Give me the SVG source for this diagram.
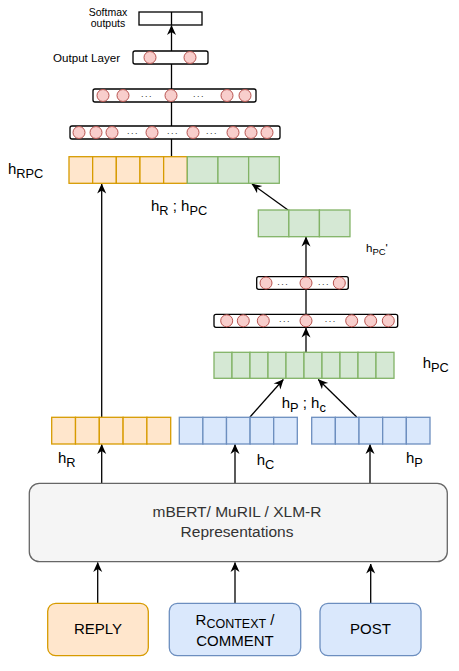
<svg xmlns="http://www.w3.org/2000/svg" width="459" height="671" viewBox="0 0 459 671">
<defs>
<marker id="arr" markerUnits="userSpaceOnUse" markerWidth="10" markerHeight="10" viewBox="0 0 10 10" refX="9.5" refY="5" orient="auto">
<path d="M0,0.5 L10,5 L0,9.5 L3,5 Z" fill="#000"/>
</marker>
</defs>
<style>
text{font-family:"Liberation Sans",Arial,sans-serif;fill:#000}
.conn line{stroke:#000;stroke-width:1.3;fill:none}
.ar{marker-end:url(#arr)}
.or rect{fill:#ffe6cc;stroke:#d79b00;stroke-width:1.3}
.gr rect{fill:#d5e8d4;stroke:#82b366;stroke-width:1.3}
.bl rect{fill:#dae8fc;stroke:#6c8ebf;stroke-width:1.3}
.layer rect{fill:#fff;stroke:#000;stroke-width:1.3}
.layer circle{fill:#f8cecc;stroke:#b85450;stroke-width:1}
.dots{font-size:9px;letter-spacing:1.5px;text-anchor:middle;fill:#333}
.lab{font-size:15px}
.sub{font-size:12.8px}
.mid{text-anchor:middle}
</style>

<g id="connectors" class="conn">
<line x1="171.5" y1="157" x2="171.5" y2="25.5" class="ar"/>
<line x1="101.7" y1="417" x2="101.7" y2="184" class="ar"/>
<line x1="288" y1="210" x2="252" y2="184" class="ar"/>
<line x1="306" y1="277" x2="306" y2="237" class="ar"/>
<line x1="306" y1="314" x2="306" y2="289"/>
<line x1="306" y1="352" x2="306" y2="328" class="ar"/>
<line x1="250" y1="417" x2="283.3" y2="379.5" class="ar"/>
<line x1="356.7" y1="417" x2="318.3" y2="379.5" class="ar"/>
<line x1="101.7" y1="483" x2="101.7" y2="444.5" class="ar"/>
<line x1="235" y1="483" x2="235" y2="444.5" class="ar"/>
<line x1="370" y1="483" x2="370" y2="444.5" class="ar"/>
<line x1="97.7" y1="603" x2="97.7" y2="562.5" class="ar"/>
<line x1="235" y1="603" x2="235" y2="562.5" class="ar"/>
<line x1="370.7" y1="603" x2="370.7" y2="564" class="ar"/>
</g>

<g id="softmax" class="layer">
<rect x="139" y="12" width="63" height="13"/>
<line x1="171.5" y1="12" x2="171.5" y2="25" stroke="#000" stroke-width="1.3"/>
<text x="108" y="15.5" font-size="10.5" class="mid">Softmax</text>
<text x="108" y="27" font-size="10.5" class="mid">outputs</text>
</g>

<g id="output-layer" class="layer">
<text x="53" y="62" font-size="11.6">Output Layer</text>
<rect x="133" y="51" width="75" height="13" rx="2"/>
<circle cx="150" cy="57.5" r="6"/>
<circle cx="190" cy="57.5" r="6"/>
</g>

<g id="hidden-layer-2" class="layer">
<rect x="93" y="89" width="163" height="13" rx="2"/>
<circle cx="103" cy="95.5" r="6"/>
<circle cx="123" cy="95.5" r="6"/>
<circle cx="171" cy="95.5" r="6"/>
<circle cx="227" cy="95.5" r="6"/>
<circle cx="245" cy="95.5" r="6"/>
<text x="147" y="97" class="dots">...</text>
<text x="199" y="97" class="dots">...</text>
</g>

<g id="hidden-layer-1" class="layer">
<rect x="70" y="126" width="210" height="13" rx="2"/>
<circle cx="79" cy="132.5" r="6"/>
<circle cx="96" cy="132.5" r="6"/>
<circle cx="112" cy="132.5" r="6"/>
<circle cx="152" cy="132.5" r="6"/>
<circle cx="193" cy="132.5" r="6"/>
<circle cx="233" cy="132.5" r="6"/>
<circle cx="251" cy="132.5" r="6"/>
<circle cx="267" cy="132.5" r="6"/>
<text x="133" y="134" class="dots">...</text>
<text x="173" y="134" class="dots">...</text>
<text x="212" y="134" class="dots">...</text>
</g>

<g id="hRPC">
<g class="or">
<rect x="69" y="156.7" width="23.66" height="26.6"/>
<rect x="92.66" y="156.7" width="23.66" height="26.6"/>
<rect x="116.32" y="156.7" width="23.66" height="26.6"/>
<rect x="139.98" y="156.7" width="23.66" height="26.6"/>
<rect x="163.64" y="156.7" width="23.66" height="26.6"/>
</g>
<g class="gr">
<rect x="187.3" y="156.7" width="30.67" height="26.6"/>
<rect x="217.97" y="156.7" width="30.67" height="26.6"/>
<rect x="248.64" y="156.7" width="30.67" height="26.6"/>
</g>
<text x="8" y="174" class="lab">h<tspan class="sub" dy="4">RPC</tspan></text>
<text x="151" y="211" class="lab">h<tspan class="sub" dy="4">R</tspan><tspan dy="-4"> ; h</tspan><tspan class="sub" dy="4">PC</tspan></text>
</g>

<g id="hPC-prime">
<g class="gr">
<rect x="258.3" y="210" width="30.56" height="26.7"/>
<rect x="288.86" y="210" width="30.56" height="26.7"/>
<rect x="319.42" y="210" width="30.56" height="26.7"/>
</g>
<text x="366" y="251.5" font-size="11.5">h<tspan font-size="9.5" dy="3">PC</tspan><tspan dy="-3">'</tspan></text>
</g>

<g id="small-layer" class="layer">
<rect x="256.7" y="276.7" width="91.6" height="12.6" rx="2"/>
<circle cx="266" cy="283" r="6"/>
<circle cx="306" cy="283" r="6"/>
<circle cx="339.3" cy="283" r="6"/>
<text x="283.3" y="284.5" class="dots">...</text>
<text x="324" y="284.5" class="dots">...</text>
</g>

<g id="wide-layer" class="layer">
<rect x="214" y="314.3" width="183.7" height="13" rx="2"/>
<circle cx="226.7" cy="320.8" r="6"/>
<circle cx="243.3" cy="320.8" r="6"/>
<circle cx="263.3" cy="320.8" r="6"/>
<circle cx="306" cy="320.8" r="6"/>
<circle cx="351.7" cy="320.8" r="6"/>
<circle cx="370.7" cy="320.8" r="6"/>
<circle cx="388.3" cy="320.8" r="6"/>
<text x="285" y="322.3" class="dots">...</text>
<text x="330.7" y="322.3" class="dots">...</text>
</g>

<g id="hPC">
<g class="gr">
<rect x="214" y="352.3" width="18" height="26"/>
<rect x="232" y="352.3" width="18" height="26"/>
<rect x="250" y="352.3" width="18" height="26"/>
<rect x="268" y="352.3" width="18" height="26"/>
<rect x="286" y="352.3" width="18" height="26"/>
<rect x="304" y="352.3" width="18" height="26"/>
<rect x="322" y="352.3" width="18" height="26"/>
<rect x="340" y="352.3" width="18" height="26"/>
<rect x="358" y="352.3" width="18" height="26"/>
<rect x="376" y="352.3" width="18" height="26"/>
</g>
<text x="422.7" y="368" class="lab">h<tspan class="sub" dy="4">PC</tspan></text>
<text x="281.7" y="408" class="lab">h<tspan class="sub" dy="4">P</tspan><tspan dy="-4"> ; h</tspan><tspan class="sub" dy="4">c</tspan></text>
</g>

<g id="hR">
<g class="or">
<rect x="51.7" y="417.3" width="23.8" height="26.7"/>
<rect x="75.5" y="417.3" width="23.8" height="26.7"/>
<rect x="99.3" y="417.3" width="23.8" height="26.7"/>
<rect x="123.1" y="417.3" width="23.8" height="26.7"/>
<rect x="146.9" y="417.3" width="23.8" height="26.7"/>
</g>
<text x="58" y="463" class="lab">h<tspan class="sub" dy="4">R</tspan></text>
</g>

<g id="hC">
<g class="bl">
<rect x="179.3" y="417.3" width="23.6" height="26.7"/>
<rect x="202.9" y="417.3" width="23.6" height="26.7"/>
<rect x="226.5" y="417.3" width="23.6" height="26.7"/>
<rect x="250.1" y="417.3" width="23.6" height="26.7"/>
<rect x="273.7" y="417.3" width="23.6" height="26.7"/>
</g>
<text x="256.7" y="465" class="lab">h<tspan class="sub" dy="4">C</tspan></text>
</g>

<g id="hP">
<g class="bl">
<rect x="311.7" y="417.3" width="23.66" height="26.7"/>
<rect x="335.36" y="417.3" width="23.66" height="26.7"/>
<rect x="359.02" y="417.3" width="23.66" height="26.7"/>
<rect x="382.68" y="417.3" width="23.66" height="26.7"/>
<rect x="406.34" y="417.3" width="23.66" height="26.7"/>
</g>
<text x="406" y="463" class="lab">h<tspan class="sub" dy="4">P</tspan></text>
</g>

<g id="encoder">
<rect x="29.3" y="483.3" width="418" height="78.4" rx="10" fill="#f5f5f5" stroke="#666666" stroke-width="1.3"/>
<text x="237" y="517.3" font-size="15.5" class="mid" style="fill:#333333">mBERT/ MuRIL / XLM-R</text>
<text x="237" y="537.3" font-size="15.5" class="mid" style="fill:#333333">Representations</text>
</g>

<g id="reply">
<rect x="47.7" y="603.3" width="100.6" height="52.4" rx="8" fill="#ffe6cc" stroke="#d79b00" stroke-width="1.3"/>
<text x="98" y="634" font-size="15" class="mid">REPLY</text>
</g>

<g id="comment">
<rect x="169.3" y="603.3" width="131.4" height="52.4" rx="8" fill="#dae8fc" stroke="#6c8ebf" stroke-width="1.3"/>
<text x="235" y="625" font-size="15" class="mid">R<tspan font-size="12.5" dy="3">CONTEXT</tspan><tspan dy="-3"> /</tspan></text>
<text x="235" y="645.5" font-size="15" class="mid">COMMENT</text>
</g>

<g id="post">
<rect x="320" y="603.3" width="101" height="52.4" rx="8" fill="#dae8fc" stroke="#6c8ebf" stroke-width="1.3"/>
<text x="370.5" y="634" font-size="15" class="mid">POST</text>
</g>
</svg>
